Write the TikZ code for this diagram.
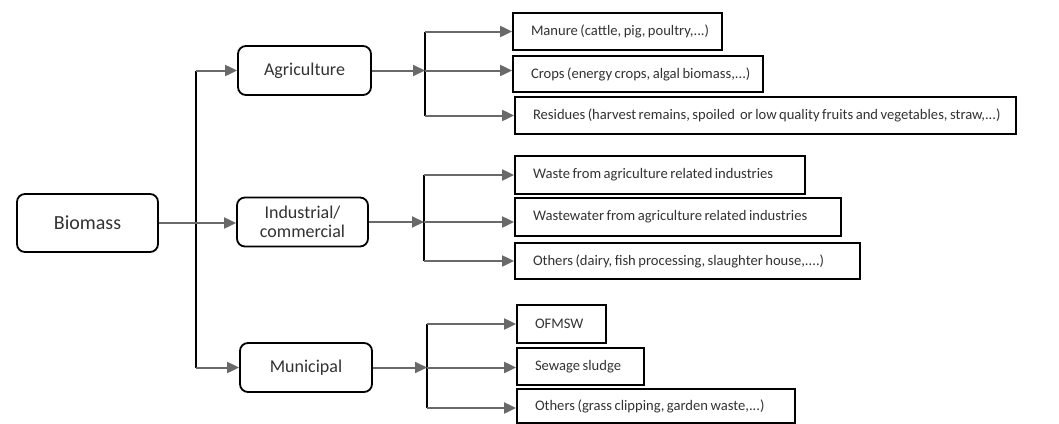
\documentclass[tikz,border=0pt]{standalone}
\usepackage{fontspec}
\setmainfont[WordSpace=0.75]{Carlito}
\usetikzlibrary{arrows.meta}
\definecolor{arrgray}{RGB}{105,105,105}
\definecolor{txt}{RGB}{50,50,50}
\tikzset{
  mid/.style={draw=black, line width=1.8pt, rounded corners=8pt, align=center, font=\fontsize{18}{19}\selectfont, text=txt, inner sep=0pt},
  leaf/.style={draw=black, line width=1.8pt, align=flush left, font=\fontsize{14.6}{15}\selectfont, text=txt, inner xsep=18pt, inner ysep=0pt},
  arr/.style={draw=arrgray, line width=2pt, -{Triangle[length=12pt,width=11pt]}},
  trunk/.style={draw=black, line width=1.6pt},
}
\begin{document}
\begin{tikzpicture}[x=1pt,y=-1pt]
\useasboundingbox (0,0) rectangle (1059,423);
% root
\node[mid, minimum width=141pt, minimum height=58pt, font=\fontsize{20}{21}\selectfont] (bio) at (87.5,223) {Biomass};
% middle
\node[mid, minimum width=133pt, minimum height=49pt] (agr) at (304.5,70.5) {Agriculture};
\node[mid, minimum width=131pt, minimum height=49pt] (ind) at (302.5,222) {Industrial/\\commercial};
\node[mid, minimum width=132pt, minimum height=49pt] (mun) at (306,367.5) {Municipal};
% leaves (text width = box width - 36)
\node[leaf, text width=173pt, minimum height=37pt] (m1) at (617.5,31.5) {\mbox{Manure (cattle, pig, poultry,...)}};
\node[leaf, text width=214pt, minimum height=36pt] (m2) at (638,74) {\mbox{Crops (energy crops, algal biomass,...)}};
\node[leaf, text width=465pt, minimum height=37pt] (m3) at (765.5,115.5) {\mbox{Residues (harvest remains, spoiled\, or low quality fruits and vegetables, straw,...)}};
\node[leaf, text width=254pt, minimum height=38pt] (i1) at (660,175) {\mbox{Waste from agriculture related industries}};
\node[leaf, text width=290pt, minimum height=38pt] (i2) at (678,217) {\mbox{Wastewater from agriculture related industries}};
\node[leaf, text width=309pt, minimum height=36pt] (i3) at (687.5,261) {\mbox{Others (dairy, fish processing, slaughter house,....)}};
\node[leaf, text width=53pt, minimum height=38pt] (u1) at (561.5,324) {\mbox{OFMSW}};
\node[leaf, text width=91pt, minimum height=37pt] (u2) at (580.5,366.5) {\mbox{Sewage sludge}};
\node[leaf, text width=242pt, minimum height=34pt] (u3) at (656,406) {\mbox{Others (grass clipping, garden waste,...)}};
% trunk
\coordinate (t1) at (196,70.5);
\coordinate (t2) at (196,367.5);
\draw[trunk] (t1) -- (t2);
\draw[arr] (t1) -- (agr.west);
\draw[arr] (bio.east) -- (bio.east -| ind.west);
\draw[arr] (t2) -- (mun.west);
% agriculture branch
\coordinate (a0) at (425,70.5);
\coordinate (a1) at (425,31.5);
\coordinate (a3) at (425,115.5);
\draw[trunk] (a1) -- (a3);
\draw[arr] (agr.east) -- (a0);
\draw[arr] (a1) -- (m1.west);
\draw[arr] (a0) -- (a0 -| m2.west);
\draw[arr] (a3) -- (m3.west);
% industrial branch
\coordinate (b0) at (424,222);
\coordinate (b1) at (424,175);
\coordinate (b3) at (424,261);
\draw[trunk] (b1) -- (b3);
\draw[arr] (ind.east) -- (b0);
\draw[arr] (b1) -- (i1.west);
\draw[arr] (b0) -- (b0 -| i2.west);
\draw[arr] (b3) -- (i3.west);
% municipal branch
\coordinate (c0) at (427,367.5);
\coordinate (c1) at (427,324);
\coordinate (c3) at (427,408);
\draw[trunk] (c1) -- (c3);
\draw[arr] (mun.east) -- (c0);
\draw[arr] (c1) -- (u1.west);
\draw[arr] (c0) -- (c0 -| u2.west);
\draw[arr] (c3) -- (c3 -| u3.west);
\end{tikzpicture}
\end{document}
